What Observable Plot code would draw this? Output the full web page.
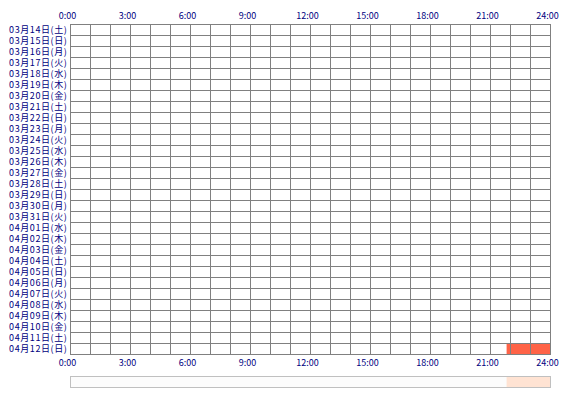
<!DOCTYPE html>
<html>
<head>
<meta charset="utf-8">
<script src="https://cdn.jsdelivr.net/npm/d3@7"></script>
<script src="https://cdn.jsdelivr.net/npm/@observablehq/plot@0.6"></script>
<style>
  html, body { margin: 0; padding: 0; background: #fff; }
  svg { display: block; }
</style>
</head>
<body>
<div id="chart"></div>
<script>
const days = [
  "03月14日(土)", "03月15日(日)", "03月16日(月)", "03月17日(火)", "03月18日(水)",
  "03月19日(木)", "03月20日(金)", "03月21日(土)", "03月22日(日)", "03月23日(月)",
  "03月24日(火)", "03月25日(水)", "03月26日(木)", "03月27日(金)", "03月28日(土)",
  "03月29日(日)", "03月30日(月)", "03月31日(火)", "04月01日(水)", "04月02日(木)",
  "04月03日(金)", "04月04日(土)", "04月05日(日)", "04月06日(月)", "04月07日(火)",
  "04月08日(水)", "04月09日(木)", "04月10日(金)", "04月11日(土)", "04月12日(日)"
];
const hourCells = [0,1,2,3,4,5,6,7,8,9,10,11,12,13,14,15,16,17,18,19,20,21,22,23];
const tickHours = [0, 3, 6, 9, 12, 15, 18, 21, 24];
const tickLabels = ["0:00", "3:00", "6:00", "9:00", "12:00", "15:00", "18:00", "21:00", "24:00"];
const activityDays = ["04月12日(日)"];
const activityStart = [21.83];
const activityEnd = [24];
const summaryRow = "summary";

const gridData = days.flatMap(d => hourCells.map(h => ({day: d, h})));
const activity = activityDays.map((d, i) => ({day: d, start: activityStart[i], end: activityEnd[i]}));
const summary = activity.map(a => ({day: summaryRow, start: a.start, end: a.end}));

const navy = "#000080";
const font = "'Noto Sans CJK JP', sans-serif";

const chart = Plot.plot({
  width: 570,
  height: 400,
  margin: 0,
  style: {fontFamily: font, fontSize: "9px", background: "#fff"},
  x: {domain: [0, 24], range: [70, 550], axis: null},
  y: {type: "band", domain: [...days, "_gap1", "_gap2", summaryRow], range: [24, 387], padding: 0, axis: null},
  marks: [
    // summary bar
    Plot.rect([{day: summaryRow}], {x1: 0, x2: 24, y: "day", fill: "#fcfcfc", dy: 1}),
    Plot.rect(summary, {x1: "start", x2: "end", y: "day", fill: "#ffe3d3", dy: 1}),
    Plot.rect([{day: summaryRow}], {x1: 0, x2: 24, y: "day", fill: "none", stroke: "#c0c0c0", strokeWidth: 1, dx: 0.5, dy: 0.5}),
    // activity
    Plot.rect(activity, {x1: "start", x2: "end", y: "day", fill: "#ff6347"}),
    // grid
    Plot.rect(gridData, {x1: "h", x2: d => d.h + 1, y: "day", fill: "none", stroke: "#808080", strokeWidth: 1, dx: 0.5, dy: 0.5, shapeRendering: "crispEdges"}),
    // row labels
    Plot.text(days, {x: 0, y: d => d, text: d => d, textAnchor: "end", dx: -3, fill: navy, fontSize: 9, style: "letter-spacing:0.6px"}),
    // top tick labels
    Plot.text(tickHours, {x: d => d, text: (d, i) => tickLabels[i], frameAnchor: "top", lineAnchor: "middle", dy: 15.5, dx: -3, fill: navy, fontSize: 9}),
    // bottom tick labels
    Plot.text(tickHours, {x: d => d, text: (d, i) => tickLabels[i], frameAnchor: "bottom", lineAnchor: "middle", dy: -37, dx: -3, fill: navy, fontSize: 9})
  ]
});
d3.select(chart).selectAll("text").filter(function() { return days.includes(this.textContent); }).attr("letter-spacing", "0.6");
document.getElementById("chart").appendChild(chart);
</script>
</body>
</html>
